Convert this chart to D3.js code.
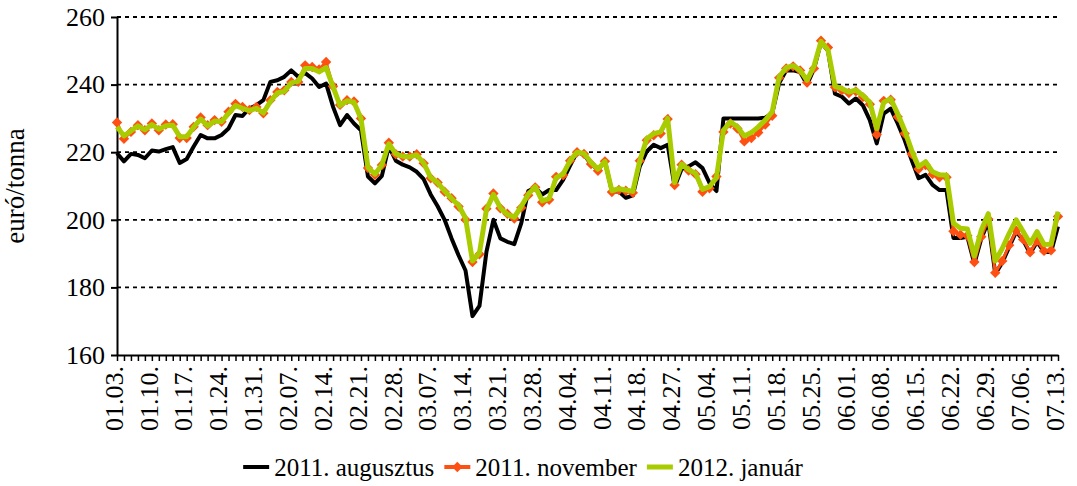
<!DOCTYPE html>
<html>
<head>
<meta charset="utf-8">
<script src="https://cdn.jsdelivr.net/npm/d3@7"></script>
<style>
body { margin: 0; background: #fff; }
svg text { font-family: 'Liberation Serif', 'Times New Roman', serif !important; }
</style>
</head>
<body>
<svg id="chart" width="1077" height="486"></svg>
<script>
// weekly labels, every 5th trading day
var tickLabels = ["01.03.","01.10.","01.17.","01.24.","01.31.","02.07.","02.14.",
	"02.21.","02.28.","03.07.","03.14.","03.21.","03.28.","04.04.","04.11.","04.18.",
	"04.27.","05.04.","05.11.","05.18.","05.25.","06.01.","06.08.","06.15.","06.22.",
	"06.29.","07.06.","07.13."];

var yTicks = [160, 180, 200, 220, 240, 260];
var seriesNames = ["2011. augusztus", "2011. november", "2012. január"];

var aug2011 = [219.7,217.3,219.5,219.2,218.2,220.5,220.2,220.9,221.5,216.8,
	218,221.7,225.1,224.1,224.1,225.1,227,231,230.7,233,
	233.9,235.4,240.8,241.3,242.3,244.2,242.3,243.4,241.8,239.3,
	240.3,233.4,228,231,228.5,226.5,212.8,210.8,213,221.8,
	217.5,216.3,215.5,214.2,212,207.5,204,200,194.5,189.5,
	185,171.5,174.5,190.5,200,194.5,193.5,192.8,199,208.5,
	209.5,207.5,208.8,208.8,211.8,216,220,219.3,216.5,214.8,
	217.3,208.4,208.4,206.5,207.2,215.8,220.2,222.2,221.2,222.2,
	209.8,215,215.8,217,215.3,210.9,208.5,230,230,230,
	230,230,230,230.2,231.5,240.5,244.2,244.2,243.7,240,
	244.7,252.5,250,237.3,236.4,234.4,235.9,233.9,229.5,222.6,
	231.4,232.9,228.5,223.6,217.7,212.3,213.3,210.3,208.8,208.8,
	194.6,194.6,195,187,194.5,199.5,184,187.3,192,196.5,
	194,190,193.5,190.5,190.5,198];

var nov2011 = [228.8,224,226,228,226.5,228.5,226.5,228.2,228.3,224.2,
	224.2,227.5,230.3,228,229.5,229,232,234.3,233.4,232.5,
	233.4,231.5,235.4,237.8,238.3,240.8,240.8,245.7,245.2,244.5,
	246.7,239.5,234,235.4,235,230,215.3,213.3,216.2,222.8,
	219.4,218.7,218.7,219.4,216.7,212.3,211,208.3,206.4,203.9,
	200,187.5,189.8,203.3,207.8,203.4,201.8,200.4,203.6,207.3,
	209.6,205.2,205.9,212.7,213.2,217.5,220,219.5,216.5,214.5,
	217.3,208.2,208.8,208.6,208,217.5,223.5,225,225.5,229.8,
	210.3,216.3,214.6,213.5,208.3,209.3,212.8,226,228.5,227,
	223.2,224.2,225.8,228.2,230.8,242,244.8,245.4,244.2,240.6,
	244.8,253,251,239.2,238.3,237.5,238,236.3,234.2,225.2,
	235.2,235.5,230.5,225.5,219.5,215,216.2,213.5,212.6,212.6,
	196.6,195.6,195.3,187.5,195,200.2,184.3,187.8,192.5,196.8,
	194.2,190.4,193.8,190.8,191,201];

var jan2012 = [227.5,224.8,226.3,227.8,226.6,228.2,226.8,227.8,228,224.6,
	224.6,227.4,229.8,227.8,229.2,229,231.5,233.8,233,232.3,
	233,231.6,235,237.5,238,240.5,241,244.8,244.8,243.8,
	245,239.3,233.8,235.2,234.8,230,215.5,213.5,216.3,222.5,
	219.5,218.8,218.6,219.2,216.8,212.5,211,208.5,206.3,204.3,
	200.5,187.8,190.2,203,207.5,203.5,201.6,200.8,204,207.5,
	209.8,205.6,206.3,212.5,213.5,217.5,220,219.6,217,215,
	217.3,208.6,209.2,208.8,208.4,217.5,224,225.5,226,230,
	211,216.5,214.8,213.8,209,209.8,212.5,226.5,229,227.5,
	224.8,225.8,227.5,229.5,232,242.3,245,245.6,244.2,241.3,
	245.5,252.8,250.3,239.5,238.8,237.8,238.4,236.8,234.8,227,
	234.8,235.8,231.4,226.5,220.6,215.7,217.2,214.2,213.3,213.2,
	199,197.5,197.3,189.3,197,201.8,187.8,191.5,196,200,
	196.5,193,196.5,192.7,192.8,202.4];

var colors = ["#000000", "#FF5014", "#A8CC00"];

var svg = d3.select("#chart");

var x = d3.scaleLinear()
	.domain([0, aug2011.length - 1])
	.range([117, 1058]);
var y = d3.scaleLinear()
	.domain([160, 260])
	.range([355, 17]);

// dashed gridlines
svg.append("g")
	.selectAll("line")
	.data(yTicks.slice(1))
	.enter().append("line")
	.attr("x1", x.range()[0])
	.attr("x2", x.range()[1])
	.attr("y1", function(d){ return y(d); })
	.attr("y2", function(d){ return y(d); })
	.attr("stroke", "#000")
	.attr("stroke-width", 1.8)
	.attr("stroke-dasharray", "4,4");

// y axis
var yAxis = svg.append("g")
	.attr("transform", "translate(" + x.range()[0] + ",0)")
	.call(d3.axisLeft(y).tickValues(yTicks).tickSize(6).tickSizeOuter(0).tickPadding(6));
yAxis.attr("font-size", 26);
yAxis.select(".domain").attr("stroke-width", 2);
yAxis.selectAll(".tick line").attr("stroke-width", 2);

// x axis, a tick for every day, a label every 5th
var xAxis = svg.append("g")
	.attr("transform", "translate(0," + y.range()[0] + ")")
	.call(d3.axisBottom(x)
		.tickValues(d3.range(aug2011.length))
		.tickSize(6)
		.tickSizeOuter(0)
		.tickFormat(function(i){ return i % 5 == 0 ? tickLabels[i / 5] : ""; }));
xAxis.attr("font-size", 26);
xAxis.select(".domain").attr("stroke-width", 2);
xAxis.selectAll(".tick line").attr("stroke-width", 1.5);
xAxis.selectAll("text")
	.attr("transform", "rotate(-90)")
	.attr("text-anchor", "end")
	.attr("x", -11)
	.attr("y", 0)
	.attr("dy", "0.2em");

// y title
svg.append("text")
	.attr("transform", "translate(24," + ((y.range()[0] + y.range()[1]) / 2) + ") rotate(-90)")
	.attr("text-anchor", "middle")
	.attr("font-size", 27)
	.text("euró/tonna");

var line = d3.line()
	.x(function(d, i){ return x(i); })
	.y(function(d){ return y(d); });

svg.append("path")
	.datum(aug2011)
	.attr("d", line)
	.attr("fill", "none")
	.attr("stroke", colors[0])
	.attr("stroke-width", 4)
	.attr("stroke-linejoin", "round");

svg.append("path")
	.datum(nov2011)
	.attr("d", line)
	.attr("fill", "none")
	.attr("stroke", colors[1])
	.attr("stroke-width", 3);

var diamond = d3.symbol().type(d3.symbolSquare).size(54);

svg.append("g")
	.selectAll("path")
	.data(nov2011)
	.enter().append("path")
	.attr("d", diamond)
	.attr("fill", colors[1])
	.attr("transform", function(d, i){ return "translate(" + x(i) + "," + y(d) + ") rotate(45)"; });

svg.append("path")
	.datum(jan2012)
	.attr("d", line)
	.attr("fill", "none")
	.attr("stroke", colors[2])
	.attr("stroke-width", 5)
	.attr("stroke-linejoin", "round");

// legend
var legend = svg.append("g");
var pos = 0;
seriesNames.forEach(function(name, k){
	var item = legend.append("g").attr("transform", "translate(" + pos + ",0)");
	item.append("line")
		.attr("x1", 0).attr("x2", 26)
		.attr("y1", 0).attr("y2", 0)
		.attr("stroke", colors[k])
		.attr("stroke-width", k == 2 ? 5 : 4);
	if(k == 1){
		item.append("path")
			.attr("d", diamond)
			.attr("fill", colors[1])
			.attr("transform", "translate(13,0) rotate(45)");
	}
	var t = item.append("text")
		.attr("x", 31)
		.attr("dy", "0.35em")
		.attr("font-size", 25)
		.text(name);
	pos += 31 + t.node().getComputedTextLength() + 10;
});
legend.attr("transform", "translate(" + (523 - (pos - 10) / 2) + ",467)");
</script>
</body>
</html>
